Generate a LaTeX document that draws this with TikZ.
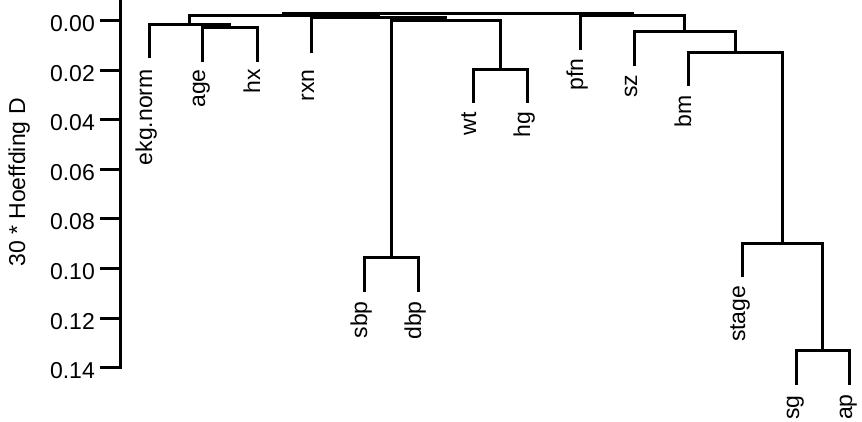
\documentclass[tikz,border=0pt]{standalone}
\usepackage{fontspec}
\setmainfont{Liberation Sans}
\begin{document}
\begin{tikzpicture}[x=1pt,y=-1pt,
  branch/.style={draw=black, line width=2.5pt},
  axisline/.style={draw=black, line width=2.5pt},
  lab/.style={font=\fontsize{23}{27}\selectfont, inner sep=0pt},
  leaflab/.style={lab, rotate=90, anchor=east, text height=1ex, text depth=0pt},
  ticklab/.style={lab, anchor=base east}]
\useasboundingbox (0,0) rectangle (862,421);

% axis
\coordinate (axtop) at (120.5,0);
\coordinate (axbot) at (120.5,368.7);
\draw[axisline] (axtop) -- (axbot);
\foreach \i/\y/\lab in {0/20.5/0.00,1/70.5/0.02,2/119.5/0.04,3/169.5/0.06,4/218.5/0.08,5/268.5/0.10,6/318.5/0.12,7/367.5/0.14}{
  \coordinate (tk\i) at (121.7,\y);
  \coordinate (tka\i) at (99.5,\y);
  \draw[axisline] (tka\i) -- (tk\i);
  \node[ticklab] (tl\i) at (95,\y+10.5) {\lab};
}
\node[lab, rotate=90, anchor=base] (ytitle) at (25,182.5) {30 * Hoeffding D};

% leaves (bottom ends of leaf lines)
\coordinate (ekg) at (149.5,58);
\coordinate (age) at (202.5,62);
\coordinate (hx) at (257.5,62);
\coordinate (rxn) at (311.5,53);
\coordinate (sbp) at (364.5,292);
\coordinate (dbp) at (418.5,292);
\coordinate (wt) at (473.5,103);
\coordinate (hg) at (527.5,103);
\coordinate (pfn) at (580.5,50);
\coordinate (sz) at (634.5,66);
\coordinate (bm) at (688.5,86);
\coordinate (stage) at (742.5,277);
\coordinate (sg) at (796.5,385);
\coordinate (ap) at (849.5,385);

% merge points
\coordinate (m1) at (229.5,27.5);
\coordinate (m2) at (189.5,24.5);
\coordinate (m3) at (391.5,257.5);
\coordinate (m4) at (500.5,69.5);
\coordinate (m5) at (445.5,20.5);
\coordinate (m6) at (378.5,17.5);
\coordinate (m7) at (283.5,15.5);
\coordinate (m8) at (822.5,350.5);
\coordinate (m9) at (782.5,243.5);
\coordinate (m10) at (735.5,52.5);
\coordinate (m11) at (684.5,31.5);
\coordinate (m12) at (632.5,15.5);
\coordinate (root) at (458.5,13.5);

\draw[branch] (age) |- (m1) -| (hx);
\draw[branch] (ekg) |- (m2) -| (m1);
\draw[branch] (sbp) |- (m3) -| (dbp);
\draw[branch] (wt) |- (m4) -| (hg);
\draw[branch] (m3) |- (m5) -| (m4);
\draw[branch] (rxn) |- (m6) -| (m5);
\draw[branch] (m2) |- (m7) -| (m6);
\draw[branch] (sg) |- (m8) -| (ap);
\draw[branch] (stage) |- (m9) -| (m8);
\draw[branch] (bm) |- (m10) -| (m9);
\draw[branch] (sz) |- (m11) -| (m10);
\draw[branch] (pfn) |- (m12) -| (m11);
\draw[branch] (m7) |- (root) -| (m12);

% leaf labels
\node[leaflab] (l-ekg) at (149.5,69) {ekg.norm};
\node[leaflab] (l-age) at (202.5,69) {age};
\node[leaflab] (l-hx) at (257.5,69) {hx};
\node[leaflab] (l-rxn) at (311.5,69.5) {rxn};
\node[leaflab] (l-sbp) at (364.5,301) {sbp};
\node[leaflab] (l-dbp) at (418.5,301) {dbp};
\node[leaflab] (l-wt) at (473.5,112) {wt};
\node[leaflab] (l-hg) at (527.5,111.5) {hg};
\node[leaflab] (l-pfn) at (580.5,58.5) {pfn};
\node[leaflab] (l-sz) at (634.5,74.5) {sz};
\node[leaflab] (l-bm) at (688.5,95) {bm};
\node[leaflab] (l-stage) at (742.5,285.5) {stage};
\node[leaflab] (l-sg) at (796.5,395) {sg};
\node[leaflab] (l-ap) at (849.5,394) {ap};
\end{tikzpicture}
\end{document}
